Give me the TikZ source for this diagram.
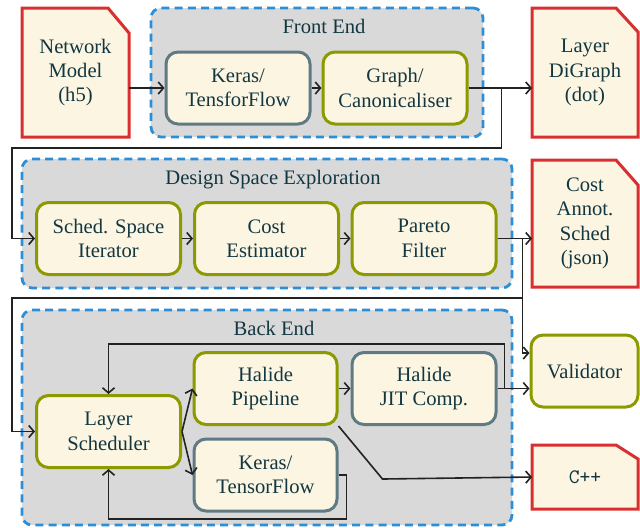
\documentclass[tikz,border=0pt]{standalone}
\usepackage{fontspec}
\setmainfont{Liberation Serif}
\usetikzlibrary{arrows.meta}

\definecolor{txtcol}{RGB}{18,55,65}
\definecolor{paper}{RGB}{252,245,226}
\definecolor{grpfill}{RGB}{217,217,217}
\definecolor{grpline}{RGB}{45,142,216}
\definecolor{docline}{RGB}{216,48,48}
\definecolor{olive}{RGB}{138,154,0}
\definecolor{slate}{RGB}{96,122,132}
\definecolor{wire}{RGB}{34,34,34}

% file outline with a cut top-right corner
\newcommand{\docframe}[3]{%
  \fill[white] ([xshift=-#2]#1.north east) -- (#1.north east) -- ([yshift=-#3]#1.north east) -- cycle;
  \draw[docline, line width=1.5pt] (#1.south west) -- (#1.north west) -- ([xshift=-#2]#1.north east)
    -- ([yshift=-#3]#1.north east) -- (#1.south east) -- cycle;}

\tikzset{
  every node/.style={font=\fontsize{10.3}{12.2}\selectfont, text=txtcol, align=center},
  grp/.style={draw=grpline, fill=grpfill, line width=1.4pt, dash pattern=on 4pt off 2.6pt,
    rounded corners=5pt, minimum height=64.5pt},
  grptitle/.style={anchor=base, inner sep=0pt},
  proc/.style={draw=olive, fill=paper, line width=1.5pt, rounded corners=6pt,
    minimum width=72pt, minimum height=36pt, inner sep=1pt},
  tool/.style={proc, draw=slate},
  doc/.style={fill=paper, outer sep=0pt, minimum width=53pt, minimum height=64.5pt, inner sep=1pt},
  flow/.style={draw=wire, line width=0.8pt, -{Straight Barb[length=2.6pt,width=6pt]}}
}

\begin{document}
\begin{tikzpicture}[x=0.5pt, y=-0.5pt]
\useasboundingbox (0,0) rectangle (640,527);

% groups
\node[grp, minimum width=166pt] (fe) at (317,72.5) {};
\node[grptitle] (fe-title) at ([xshift=3.5pt,yshift=-13.5pt]fe.north) {Front End};
\node[grp, minimum width=245pt] (dse) at (267,223.5) {};
\node[grptitle] (dse-title) at ([xshift=3pt,yshift=-13.5pt]dse.north) {Design Space Exploration};
\node[grp, minimum width=245pt, minimum height=107.5pt] (be) at (267,417.5) {};
\node[grptitle] (be-title) at ([xshift=3.5pt,yshift=-13.5pt]be.north) {Back End};

% files
\node[doc, minimum width=53.5pt] (net) at (75.5,72.5) {Network\\Model\\(h5)};
\docframe{net}{10.5pt}{12.5pt}
\node[doc] (digraph) at (585,72.5) {Layer\\DiGraph\\(dot)};
\docframe{digraph}{11pt}{12pt}
\node[doc, minimum height=63.5pt] (ann) at (585,223.5) {Cost\\Annot.\\Sched\\(json)};
\docframe{ann}{11pt}{12.5pt}
\node[doc, minimum height=32pt] (cpp) at (585,477) {\texttt{C++}};
\docframe{cpp}{11pt}{7pt}

% front end
\node[tool] (keras1) at (238,88) {Keras/\\TensforFlow};
\node[proc] (graph) at (395,88) {Graph/\\Canonicaliser};

% design space exploration
\node[proc] (sched) at (108.5,238.5) {Sched. Space\\Iterator};
\node[proc] (cost) at (266.5,238.5) {Cost\\Estimator};
\node[proc] (pareto) at (424,238.5) {Pareto\\Filter};

% back end
\node[proc] (lsched) at (108.5,431.5) {Layer\\Scheduler};
\node[proc, minimum width=71.5pt] (pipe) at (265.5,388.5) {Halide\\Pipeline};
\node[tool, minimum width=71.5pt] (keras2) at (265.5,475) {Keras/\\TensorFlow};
\node[tool] (jit) at (424,388.5) {Halide\\JIT Comp.};
\node[proc, minimum width=53.5pt] (val) at (584.5,371) {Validator};

% connectors
\draw[flow] (keras1.west -| net.east) -- (keras1.west);
\draw[flow] (keras1) -- (graph);
\draw[flow] (graph.east) -- (graph.east -| digraph.west);
\draw[flow] (graph.east) -- ++(33,0) |- (12,148) |- (sched.west);
\draw[flow] (sched) -- (cost);
\draw[flow] (cost) -- (pareto);
\draw[flow] (pareto.east) -- (pareto.east -| ann.west);
\draw[flow] (pareto.east) -- ++(25,0) |- (12,298) |- (lsched.west);
\draw[flow] (pareto.east) -- ++(25,0) |- ([yshift=9pt]val.west);
\draw[flow] (lsched.east) -- (pipe.west);
\draw[flow] (lsched.east) -- (keras2.west);
\draw[flow] (pipe) -- (jit);
\draw[flow] (jit.east) -- (jit.east -| val.west);
\draw[flow] (jit.east) -- ++(7,0) |- ([yshift=25pt]lsched.north) -- (lsched.north);
\draw[flow] (pipe.south east) -- ++(44,53) -- (cpp.west);
\draw[flow] (keras2.east) -- ++(8,0) |- ([yshift=-25pt]lsched.south) -- (lsched.south);
\end{tikzpicture}
\end{document}
